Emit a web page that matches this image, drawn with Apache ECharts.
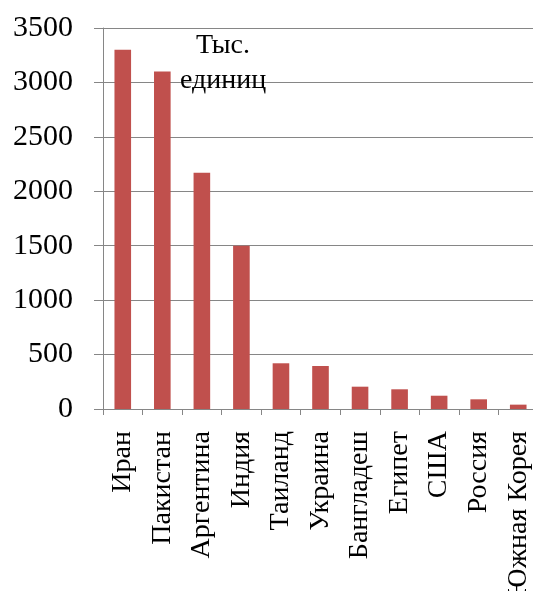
<!DOCTYPE html>
<html>
<head>
<meta charset="utf-8">
<script src="https://cdn.jsdelivr.net/npm/echarts@6/dist/echarts.min.js"></script>
<style>
  html, body { margin: 0; padding: 0; background: #fff; }
  #main { width: 533px; height: 591px; }
</style>
</head>
<body>
<div id="main"></div>
<script>
var myChart = echarts.init(document.getElementById('main'));

var countries = ['Иран', 'Пакистан', 'Аргентина', 'Индия', 'Таиланд', 'Украина',
  'Бангладеш', 'Египет', 'США', 'Россия', 'Южная Корея'];
var values = [3300, 3100, 2170, 1500, 420, 395, 205, 181, 122, 89, 40];
var unitLabel = 'Тыс.\nединиц';

var fontFamily = '"Liberation Serif", "DejaVu Serif", serif';
var gridColor = '#868686';

option = {
  animation: false,
  backgroundColor: '#fff',
  grid: {
    left: 103,
    right: -5,
    top: 28,
    bottom: 182,
    containLabel: false,
    outerBoundsMode: 'none'
  },
  graphic: [
    {
      type: 'text',
      x: 223,
      y: 28,
      z: 100,
      style: {
        text: unitLabel,
        textAlign: 'center',
        font: '28px ' + fontFamily,
        lineHeight: 35,
        fill: '#000'
      }
    }
  ],
  xAxis: {
    type: 'category',
    data: countries,
    axisLine: { show: true, lineStyle: { color: gridColor, width: 1 } },
    axisTick: { show: true, length: 6, inside: false, lineStyle: { color: gridColor } },
    axisLabel: {
      rotate: 90,
      margin: 22,
      color: '#000',
      fontFamily: fontFamily,
      fontSize: 28,
      interval: 0
    },
    splitLine: { show: false }
  },
  yAxis: {
    type: 'value',
    min: 0,
    max: 3500,
    interval: 500,
    axisLine: { show: true, lineStyle: { color: gridColor, width: 1 } },
    axisTick: { show: true, length: 9, lineStyle: { color: gridColor } },
    axisLabel: {
      margin: 30,
      color: '#000',
      fontFamily: fontFamily,
      fontSize: 30,
      formatter: function (v) { return String(v); }
    },
    splitLine: { show: true, lineStyle: { color: gridColor, width: 1 } }
  },
  series: [
    {
      type: 'bar',
      data: values,
      barWidth: '42%',
      itemStyle: {
        color: '#C0504D'
      }
    }
  ]
};

myChart.setOption(option);
</script>
</body>
</html>
